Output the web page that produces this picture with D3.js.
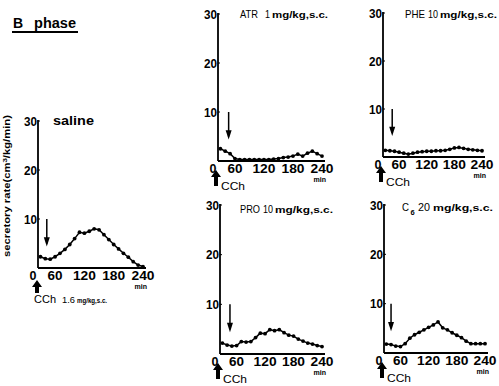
<!DOCTYPE html>
<html><head><meta charset="utf-8">
<script src="https://cdn.jsdelivr.net/npm/d3@7"></script>
<style>
body{margin:0;background:#fff}
svg{display:block}
text{font-family:"Liberation Sans",Arial,Helvetica,sans-serif;fill:#000}
</style>
</head><body>
<svg id="c" width="499" height="386"></svg>
<script>
// ---- data (minutes after start, secretory rate) ----
const times  = [30,40,50,60,70,80,90,100,110,120,130,140,150,160,170,180,190,200,210,220,230,240];
const saline = [2.3,1.9,1.8,2.3,3.0,3.8,4.8,6.0,7.3,7.1,7.5,8.0,7.8,6.8,5.8,4.8,3.9,3.0,2.2,1.3,0.6,0.3];
const atr    = [2.5,2.0,1.5,0.5,0.3,0.3,0.3,0.3,0.3,0.3,0.3,0.4,0.5,0.7,0.8,1.0,1.4,1.0,1.6,2.0,1.5,1.0];
const phe    = [1.4,1.3,1.2,1.0,0.8,0.6,0.8,1.0,1.1,1.2,1.2,1.3,1.3,1.4,1.6,1.9,2.0,1.8,1.6,1.5,1.4,1.3];
const pro    = [2.2,1.8,1.6,1.7,2.5,2.4,2.5,3.3,4.2,4.1,4.9,4.7,4.9,4.3,3.8,3.6,3.0,2.6,2.2,2.0,1.7,1.5];
const c6     = [1.8,1.7,1.4,1.3,1.9,3.0,3.7,4.2,4.7,5.2,5.7,6.3,5.1,4.7,4.1,3.6,3.1,2.4,1.9,1.9,1.9,1.9];
const yTicks = [10,20,30];
const xTicks = [60,120,180,240];
const drugNames = ["saline","ATR","PHE","PRO","C"];
const doses     = ["1.6","1","10","10","20"];
const unitLabel = "mg/kg,s.c.";
const seriesList = [saline, atr, phe, pro, c6];

// ---- layout ----
const geo = [
  {x0:38,  x1:143, y0:268, y30:121, arrowT:43, ty:125},
  {x0:218, x1:322, y0:161, y30:14,  arrowT:47, ty:18,  nx:240, nw:18, dx:265, dw:5,  ux:272, uw:56},
  {x0:383, x1:482, y0:157, y30:13,  arrowT:45, ty:18,  nx:405, nw:20, dx:428, dw:10, ux:440, uw:57},
  {x0:220, x1:322, y0:354, y30:205, arrowT:46, ty:213, nx:240, nw:20, dx:263, dw:10, ux:275, uw:58},
  {x0:384, x1:485, y0:353, y30:205, arrowT:40, ty:211, nx:402, nw:7,  dx:418, dw:12, ux:433, uw:60}
];
const svg = d3.select("#c");

// title
svg.append("text").attr("x",13).attr("y",28).attr("font-size",14).attr("font-weight","bold")
  .text("B").attr("textLength",8);
svg.append("text").attr("x",34).attr("y",28).attr("font-size",14).attr("font-weight","bold")
  .attr("textLength",42).attr("lengthAdjust","spacingAndGlyphs").text("phase");
svg.append("line").attr("x1",12).attr("x2",78).attr("y1",32).attr("y2",32)
  .attr("stroke","#000").attr("stroke-width",2);

function upArrow(g, cx, tipY, botY){
  const hw=5, sw=2, hh=7;
  g.append("path").attr("d",
    `M${cx},${tipY} L${cx-hw},${tipY+hh} L${cx-sw},${tipY+hh} L${cx-sw},${botY} L${cx+sw},${botY} L${cx+sw},${tipY+hh} L${cx+hw},${tipY+hh} Z`)
    .attr("fill","#000");
}
function txt(g, x, y, size, s, opts={}){
  const t = g.append("text").attr("x",x).attr("y",y).attr("font-size",size).text(s);
  if(opts.bold) t.attr("font-weight","bold");
  if(opts.w) t.attr("textLength",opts.w).attr("lengthAdjust","spacingAndGlyphs");
  if(opts.anchor) t.attr("text-anchor",opts.anchor);
  return t;
}

geo.forEach((p,i)=>{
  const x = d3.scaleLinear().domain([25,240]).range([p.x0,p.x1]);
  const y = d3.scaleLinear().domain([0,30]).range([p.y0,p.y30]);
  const g = svg.append("g");
  // axes
  g.append("line").attr("x1",p.x0).attr("x2",p.x0).attr("y1",y(30)-1).attr("y2",p.y0)
    .attr("stroke","#000").attr("stroke-width",1.8);
  g.append("line").attr("x1",p.x0).attr("x2",p.x1+3).attr("y1",p.y0).attr("y2",p.y0)
    .attr("stroke","#000").attr("stroke-width",1.8);
  yTicks.forEach(v=>{
    g.append("line").attr("x1",p.x0).attr("x2",p.x0+2).attr("y1",y(v)).attr("y2",y(v))
      .attr("stroke","#000").attr("stroke-width",1);
    txt(g, p.x0-1, y(v)+4.5, 12.5, v, {bold:true, anchor:"end", w:13});
  });
  txt(g, p.x0-5, p.y0+11.5, 12.5, "0", {bold:true, anchor:"middle"});
  xTicks.forEach(v=>{
    txt(g, x(v), p.y0+11.5, 12.5, v, {bold:true, anchor:"middle", w: v<100?15:23});
  });
  txt(g, p.x1+4, p.y0+21, 7, "min", {bold:true, anchor:"end"});

  // series
  const vals = seriesList[i];
  const pts = times.map((t,k)=>[t,vals[k]]);
  g.append("path").datum(pts)
    .attr("d", d3.line().x(d=>x(d[0])).y(d=>y(d[1])))
    .attr("fill","none").attr("stroke","#000").attr("stroke-width",1.5);
  g.selectAll("circle").data(pts).enter().append("circle")
    .attr("cx",d=>x(d[0])).attr("cy",d=>y(d[1])).attr("r",1.9).attr("fill","#000");

  // down arrow (drug administration)
  const ax = x(p.arrowT);
  g.append("line").attr("x1",ax).attr("x2",ax).attr("y1",y(10)).attr("y2",y(5))
    .attr("stroke","#000").attr("stroke-width",1.5);
  g.append("path").attr("d",`M${ax},${y(4.4)} L${ax-3},${y(6.3)} L${ax+3},${y(6.3)} Z`).attr("fill","#000");

  // panel title
  if(i===0){
    txt(g, 53, p.ty, 12.5, drugNames[0], {bold:true, w:41});
  } else {
    txt(g, p.nx, p.ty, 10.5, drugNames[i], {w:p.nw});
    if(i===4) txt(g, 410.5, p.ty+3.5, 7.5, "6", {bold:true});
    txt(g, p.dx, p.ty, 10.5, doses[i], {w:p.dw});
    txt(g, p.ux, p.ty, 8.5, unitLabel, {bold:true, w:p.uw});
  }

  // CCh arrow
  if(i===0){
    upArrow(g, p.x0-1, p.y0+12, p.y0+25);
    txt(g, 34, p.y0+35, 11.5, "CCh", {w:22});
    txt(g, 62, p.y0+35, 9.5, doses[0], {w:13});
    txt(g, 77, p.y0+35, 7.5, unitLabel, {bold:true, w:30});
  } else {
    upArrow(g, p.x0-2, p.y0+9, p.y0+25);
    txt(g, p.x0+3, p.y0+29, 11.5, "CCh", {w:24});
  }
});

// y-axis title (saline panel)
svg.append("text").attr("transform","translate(10,186) rotate(-90)").attr("text-anchor","middle")
  .attr("font-size",8.5).attr("font-weight","bold").attr("textLength",142)
  .attr("lengthAdjust","spacingAndGlyphs")
  .html('secretory rate(cm<tspan dy="-3" font-size="6">3</tspan><tspan dy="3">/kg/min)</tspan>');
</script>
</body></html>
